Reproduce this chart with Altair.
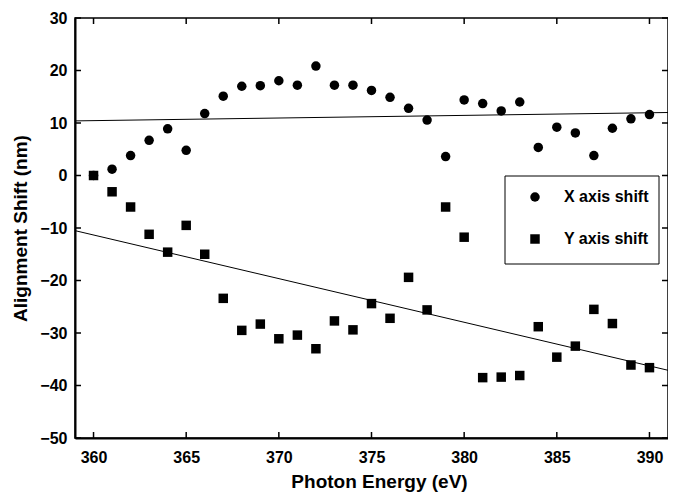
import altair as alt
import pandas as pd

energy = list(range(360, 391))
x_shift = [0.0, 1.2, 3.8, 6.7, 8.9, 4.8, 11.8, 15.1, 17.0, 17.1, 18.05, 17.2, 20.85, 17.2,
           17.2, 16.2, 14.9, 12.8, 10.55, 3.6, 14.4, 13.7, 12.3, 14.0, 5.35, 9.2, 8.1, 3.8,
           9.0, 10.8, 11.6]
y_shift = [0.0, -3.1, -6.0, -11.2, -14.6, -9.5, -15.0, -23.4, -29.5, -28.3, -31.1, -30.4,
           -33.0, -27.7, -29.4, -24.4, -27.2, -19.4, -25.6, -6.0, -11.75, -38.5, -38.4, -38.1,
           -28.8, -34.6, -32.5, -25.5, -28.2, -36.1, -36.6]
series_names = ["X axis shift", "Y axis shift"]

fit_energy = [359, 391]
fit_x = [10.4, 12.0]
fit_y = [-10.5, -37.1]

x_ticks = [360, 365, 370, 375, 380, 385, 390]
y_ticks = [-50, -40, -30, -20, -10, 0, 10, 20, 30]

W, H = 593, 420
FONT = "Liberation Sans"

pts = pd.DataFrame({
    "energy": energy * 2,
    "shift": x_shift + y_shift,
    "series": [series_names[0]] * len(energy) + [series_names[1]] * len(energy),
})
fits = pd.DataFrame({
    "energy": fit_energy * 2,
    "shift": fit_x + fit_y,
    "fit": ["x", "x", "y", "y"],
})
xt = pd.DataFrame({"energy": x_ticks})
yt = pd.DataFrame({"shift": y_ticks})
box = pd.DataFrame({"k": [0]})

xscale = alt.Scale(domain=[359, 391], nice=False, zero=False)
yscale = alt.Scale(domain=[-50, 30], nice=False, zero=False)

xaxis = alt.Axis(values=x_ticks, title="Photon Energy (eV)", ticks=False, grid=False,
                 labelPadding=11, titlePadding=7, domainWidth=2, domainColor="black",
                 labelFontSize=16, labelFontWeight="bold", titleFontSize=19,
                 titleFontWeight="bold", labelFont=FONT, titleFont=FONT,
                 labelColor="black", titleColor="black", titleX=304)
yaxis = alt.Axis(values=y_ticks, title="Alignment Shift (nm)", ticks=False, grid=False,
                 labelPadding=8, titlePadding=9, domainWidth=2, domainColor="black",
                 labelFontSize=16, labelFontWeight="bold", titleFontSize=19,
                 titleFontWeight="bold", labelFont=FONT, titleFont=FONT,
                 labelColor="black", titleColor="black")

legend_frame = alt.Chart(box).mark_rect(fill="white", stroke="black", strokeWidth=1).encode(
    x=alt.value(430), x2=alt.value(584), y=alt.value(158), y2=alt.value(246))

points = alt.Chart(pts).mark_point(filled=True, color="black", size=90, opacity=1).encode(
    x=alt.X("energy:Q", scale=xscale, axis=xaxis),
    y=alt.Y("shift:Q", scale=yscale, axis=yaxis),
    shape=alt.Shape("series:N",
                    scale=alt.Scale(domain=series_names, range=["circle", "square"]),
                    legend=alt.Legend(title=None, orient="none", legendX=452, legendY=171,
                                      padding=0, symbolOffset=0, labelOffset=21,
                                      rowPadding=26, symbolSize=90,
                                      symbolFillColor="black", symbolStrokeColor="black",
                                      labelFontSize=16, labelFontWeight="bold",
                                      labelFont=FONT, labelColor="black")),
)

lines = alt.Chart(fits).mark_line(color="black", strokeWidth=1, clip=True).encode(
    x=alt.X("energy:Q", scale=xscale),
    y=alt.Y("shift:Q", scale=yscale),
    detail="fit:N",
)

tick_len = 6
xt_bottom = alt.Chart(xt).mark_rule(color="black", strokeWidth=1.5).encode(
    x=alt.X("energy:Q", scale=xscale), y=alt.value(H), y2=alt.value(H - tick_len))
xt_top = alt.Chart(xt).mark_rule(color="black", strokeWidth=1.5).encode(
    x=alt.X("energy:Q", scale=xscale), y=alt.value(0), y2=alt.value(tick_len))
yt_left = alt.Chart(yt).mark_rule(color="black", strokeWidth=1.5).encode(
    y=alt.Y("shift:Q", scale=yscale), x=alt.value(0), x2=alt.value(tick_len))
yt_right = alt.Chart(yt).mark_rule(color="black", strokeWidth=1.5).encode(
    y=alt.Y("shift:Q", scale=yscale), x=alt.value(W - tick_len), x2=alt.value(W))

chart = alt.layer(lines, xt_bottom, xt_top, yt_left, yt_right, legend_frame, points).properties(
    width=W, height=H,
    autosize=alt.AutoSizeParams(type="none"),
    padding={"left": 67, "top": 10, "right": 0, "bottom": 57},
    background="white",
).configure_view(stroke="black", strokeWidth=1.5)

chart.save("out.html", embed_options={"renderer": "svg", "actions": False})
